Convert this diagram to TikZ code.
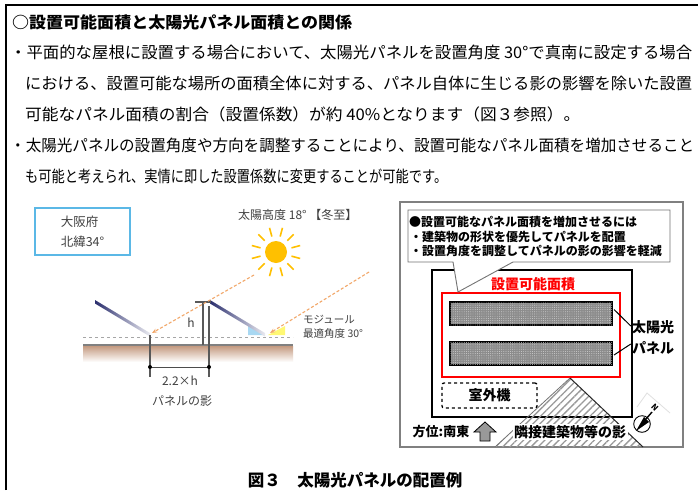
\documentclass[tikz,border=0pt]{standalone}
\usepackage{fontspec}
\usepackage{graphicx}
\setmainfont{Noto Sans CJK JP}
\usetikzlibrary{arrows.meta,patterns.meta,calc}

\definecolor{pvNavy}{HTML}{2B2F6E}
\definecolor{pvSky}{HTML}{A9D8F2}
\definecolor{pvSun}{HTML}{FFC000}
\definecolor{pvRay}{HTML}{F2A86B}
\definecolor{pvSoil}{HTML}{C49A80}
\definecolor{pvFrame}{HTML}{5BB8E6}
\definecolor{pvText}{HTML}{404040}
\definecolor{pvRed}{HTML}{FF0000}

% stretch one line of running text to a given width (pt)
\newcommand{\linefit}[2]{\resizebox{#1pt}{\height}{#2}}

\tikzset{
  bodyline/.style={anchor=west, inner sep=0pt, font=\fontsize{16}{18}\selectfont},
  sketchlabel/.style={inner sep=0pt, text=pvText, font=\fontsize{12}{14}\selectfont},
  planlabel/.style={inner sep=0pt, font=\fontsize{14}{16}\selectfont\bfseries},
  notelabel/.style={anchor=west, inner sep=0pt, font=\fontsize{12}{14}\selectfont\bfseries},
  sunray/.style={pvRay, line width=1.1pt, dash pattern=on 3pt off 2pt, -{Stealth[length=5pt,width=4pt]}},
  pvpanel/.style={draw=black, line width=2pt, fill=black!45, minimum width=162, minimum height=23,
    postaction={pattern={Dots[distance=2.2pt,radius=0.45pt]}, pattern color=black!15}},
  post/.style={black!65, line width=1.2pt}
}

\begin{document}
\begin{tikzpicture}[x=1pt, y=-1pt]
  \useasboundingbox (0,0) rectangle (698,490);
  \fill[white] (0,0) rectangle (698,490);

  % page frame
  \draw[line width=2.5pt] (6,490) -- (6,5) -- (698,5);

  % heading and text
  \node[bodyline, font=\fontsize{16}{18}\selectfont\bfseries] (title) at (12,22) {\linefit{340}{○設置可能面積と太陽光パネル面積との関係}};
  \node[bodyline] (para1a) at (10,52) {\linefit{682}{・平面的な屋根に設置する場合において、太陽光パネルを設置角度 30°で真南に設定する場合}};
  \node[bodyline] (para1b) at (25,83) {\linefit{667}{における、設置可能な場所の面積全体に対する、パネル自体に生じる影の影響を除いた設置}};
  \node[bodyline] (para1c) at (25,114) {\linefit{555}{可能なパネル面積の割合（設置係数）が約 40\%となります（図３参照）。}};
  \node[bodyline] (para2a) at (10,145) {\linefit{684}{・太陽光パネルの設置角度や方向を調整することにより、設置可能なパネル面積を増加させること}};
  \node[bodyline] (para2b) at (25,176) {\linefit{422}{も可能と考えられ、実情に即した設置係数に変更することが可能です。}};

  %% left: section sketch
  \node[draw=pvFrame, line width=1.5pt, minimum width=95, minimum height=47, align=left,
    text=pvText, font=\fontsize{12.5}{20}\selectfont] (osaka) at (82.5,231.5) {大阪府\\北緯34°};

  \node[sketchlabel, anchor=west] (altitude) at (238,215) {太陽高度 18° 【冬至】};
  \fill[pvSun] (276,252) circle (11);
  \foreach \a in {15,45,...,345}
    \draw[pvSun, line width=1.6pt] (276,252) ++(\a:16) -- ++(\a:9);

  % ground
  \shade[top color=pvSoil, bottom color=white] (83,346) rectangle (293,362);
  \draw[black!50, line width=1.8pt] (83,345) -- (293,345);
  \draw[black!35, dashed, line width=1pt] (83,337) -- (293,337);

  % angle marks
  \fill[pvSky] (248,324.5) -- (248,335) -- (265,335) -- cycle;
  \fill[yellow!55] (268,335) -- (285,335) -- (285,326) -- cycle;

  % panels
  \shade[left color=pvNavy, middle color=pvNavy!85, right color=pvNavy!10]
    (95,300) -- (150,333) -- (150,336.5) -- (95,303.5) -- cycle;
  \shade[left color=pvNavy, middle color=pvNavy!85, right color=pvNavy!10]
    (210,300) -- (265,333) -- (265,336.5) -- (210,303.5) -- cycle;

  % posts and height
  \draw[post] (150,335) -- (150,377);
  \draw[post] (195,302) -- (211,302);
  \draw[post] (203,302) -- (203,345);
  \draw[post] (209,306) -- (209,377);
  \node[sketchlabel] (hlbl) at (191,323) {h};

  % shadow length
  \coordinate (shA) at (150,367);
  \coordinate (shB) at (209,367);
  \draw[black!70, line width=1pt] (shA) -- (shB);
  \fill[black] (shA) circle (2) (shB) circle (2);
  \node[sketchlabel] (shlen) at (180,381) {2.2×h};
  \node[sketchlabel] (shname) at (182,401) {パネルの影};

  % sun rays
  \coordinate (src1) at (254,275);
  \coordinate (hit1) at (152,333);
  \coordinate (src2) at (369,272);
  \coordinate (hit2) at (270,333);
  \draw[sunray] (src1) -- (hit1);
  \draw[sunray] (src2) -- (hit2);

  \node[sketchlabel, anchor=west, font=\fontsize{10.5}{12}\selectfont] (module) at (303,320) {モジュール};
  \node[sketchlabel, anchor=west, font=\fontsize{10.5}{12}\selectfont] (optangle) at (303,334) {最適角度 30°};

  %% right: plan view
  \draw[black!50, line width=1.2pt] (400,202) rectangle (683,447);
  \draw[line width=2.2pt] (432,270) rectangle (632,417);
  \draw[pvRed, line width=1.8pt] (442,293) rectangle (620,377);
  \node[planlabel, text=pvRed] (arealbl) at (533,284) {設置可能面積};

  \node[pvpanel] (panelA) at (531,313.5) {};
  \node[pvpanel] (panelB) at (531,353) {};
  \node[planlabel, align=left, font=\fontsize{14}{21}\selectfont\bfseries] (pvlbl) at (653,337) {太陽光\\パネル};
  \draw[line width=1pt] ($(panelA.east)+(1,-4)$) -- ($(pvlbl.west)+(-1,-11)$);
  \draw[line width=1pt] ($(panelB.east)+(1,2)$) -- ($(pvlbl.west)+(-1,7)$);

  \node[planlabel, draw, dashed, line width=1.3pt, rounded corners=2pt,
    minimum width=95, minimum height=25] (outdoor) at (489.5,395.5) {室外機};

  % neighbour shadow
  \fill[pattern={Lines[angle=45,distance=5pt,line width=1.3pt]}, pattern color=black!40]
    (570,378) -- (643,447) -- (495,447) -- cycle;
  \draw[black!55, line width=0.8pt] (495,447) -- (570,378);
  \draw[black!85, line width=1pt] (570,378) -- (643,447);
  \node[planlabel, fill=white, inner sep=1.5pt] (shadowlbl) at (570,432) {隣接建築物等の影};

  % bearing
  \node[planlabel, font=\fontsize{13}{15}\selectfont\bfseries] (bearing) at (441,432) {方位:南東};
  \filldraw[fill=black!40, draw=black, line width=0.8pt]
    (480,441) -- (490,441) -- (490,432) -- (496,432) -- (485,422) -- (474,432) -- (480,432) -- cycle;

  % compass
  \draw[black!12, line width=0.8pt] (637,407) -- (647,393) -- (670,413);
  \draw[fill=white, line width=0.9pt] (642,424) circle (8.3);
  \fill[black] (636,431) -- (644,417) -- (649,422) -- cycle;
  \draw[line width=1.4pt] (646,419) -- (652,412);
  \node[inner sep=0pt, rotate=-45, font=\fontsize{8}{8}\selectfont\bfseries] (north) at (655,408) {N};

  % note callout
  \filldraw[fill=white, draw=black!55, line width=0.9pt]
    (408,210) -- (670,210) -- (670,262) -- (513,262) -- (458,292) -- (453,262) -- (408,262) -- cycle;
  \node[notelabel] (note1) at (409,222) {●設置可能なパネル面積を増加させるには};
  \node[notelabel] (note2) at (410,237) {・建築物の形状を優先してパネルを配置};
  \node[notelabel] (note3) at (410,251) {・設置角度を調整してパネルの影の影響を軽減};

  % caption
  \node[font=\fontsize{16.5}{18}\selectfont\bfseries] (caption) at (355,480) {図３　太陽光パネルの配置例};
\end{tikzpicture}
\end{document}
